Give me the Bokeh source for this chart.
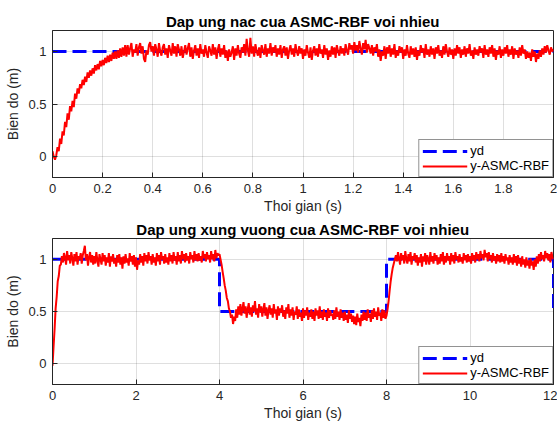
from bokeh.plotting import figure
from bokeh.models import FixedTicker, Legend, LegendItem, Range1d
from bokeh.layouts import column
from bokeh.embed import file_html
from bokeh.resources import INLINE

# ---------------- data ----------------
titles = ["Dap ung nac cua ASMC-RBF voi nhieu", "Dap ung xung vuong cua ASMC-RBF voi nhieu"]
x_label = "Thoi gian (s)"
y_label = "Bien do (m)"
legend_labels = ["yd", "y-ASMC-RBF"]

# step response (top), sampled every 0.005 s
step_t = [i / 200 for i in range(401)]
step_yd_t = [0, 2]
step_yd = [1, 1]
step_y = [
    0.05, 0.00, -0.03, 0.01, 0.09, 0.05, 0.17, 0.12, 0.24, 0.20,
    0.33, 0.28, 0.41, 0.35, 0.48, 0.43, 0.53, 0.47, 0.60, 0.55,
    0.65, 0.60, 0.69, 0.65, 0.73, 0.68, 0.76, 0.71, 0.80, 0.75,
    0.82, 0.77, 0.84, 0.79, 0.87, 0.82, 0.88, 0.83, 0.91, 0.86,
    0.92, 0.87, 0.94, 0.89, 0.96, 0.90, 0.97, 0.91, 0.99, 0.93,
    1.00, 0.93, 1.01, 0.94, 1.03, 0.95, 1.04, 0.96, 1.06, 0.95,
    1.06, 0.97, 1.03, 1.08, 0.95, 1.02, 0.99, 1.07, 0.96, 1.04,
    1.08, 0.98, 1.05, 0.93, 0.90, 1.01, 0.97, 1.06, 1.09, 1.00,
    1.05, 0.96, 1.07, 1.02, 0.95, 1.08, 1.00, 0.96, 1.04, 1.07,
    0.97, 1.03, 0.94, 1.06, 1.01, 0.96, 1.08, 0.98, 1.05, 0.95,
    1.07, 1.02, 0.96, 1.05, 0.94, 1.00, 1.06, 0.97, 1.03, 1.08,
    0.95, 1.04, 0.93, 1.01, 1.06, 0.96, 1.03, 0.94, 1.07, 0.98,
    1.02, 0.95, 1.06, 0.99, 0.94, 1.05, 1.01, 0.96, 1.07, 0.97,
    1.04, 0.93, 1.02, 1.07, 0.95, 1.03, 0.97, 1.06, 0.94, 1.01,
    0.91, 1.02, 0.95, 0.99, 1.05, 0.92, 1.03, 0.96, 1.06, 0.98,
    0.94, 1.04, 0.99, 1.07, 0.96, 1.12, 1.01, 0.95, 1.13, 0.98,
    1.05, 0.95, 1.07, 1.00, 0.96, 1.04, 0.94, 1.06, 1.01, 0.97,
    1.07, 0.95, 1.03, 0.98, 1.08, 0.96, 1.04, 0.99, 1.06, 0.95,
    1.03, 0.97, 1.06, 0.94, 1.02, 1.05, 0.96, 1.04, 0.93, 1.01,
    1.06, 0.97, 1.03, 0.95, 1.07, 1.00, 0.96, 1.05, 0.98, 1.03,
    0.93, 1.02, 0.96, 1.06, 0.99, 0.94, 1.04, 0.92, 1.01, 1.05,
    0.96, 1.03, 0.95, 1.07, 0.98, 1.02, 0.94, 1.06, 0.97, 1.03,
    0.92, 1.01, 0.95, 1.05, 0.97, 1.04, 0.94, 1.06, 1.00, 0.96,
    1.05, 0.98, 1.03, 0.96, 1.07, 1.01, 0.97, 1.08, 1.02, 1.06,
    0.98, 1.09, 1.01, 1.06, 0.99, 1.10, 1.03, 0.97, 1.08, 1.02,
    1.11, 0.99, 1.07, 1.03, 0.98, 1.06, 0.96, 1.04, 1.00, 1.07,
    0.95, 1.02, 0.91, 1.00, 0.96, 1.05, 0.93, 1.04, 0.98, 1.06,
    0.95, 1.03, 0.97, 1.07, 0.94, 1.01, 0.96, 1.05, 0.99, 1.04,
    0.93, 1.02, 0.96, 1.06, 0.98, 0.94, 1.05, 0.97, 1.03, 0.95,
    1.04, 0.92, 1.01, 0.96, 1.06, 0.99, 1.03, 0.94, 1.07, 0.97,
    1.02, 0.95, 1.05, 0.97, 1.03, 0.93, 1.04, 0.98, 1.06, 0.96,
    1.01, 0.94, 1.05, 0.97, 1.07, 1.00, 0.95, 1.04, 0.97, 1.02,
    0.93, 1.03, 0.96, 1.06, 0.98, 1.04, 0.94, 1.02, 0.97, 1.05,
    0.95, 1.03, 0.98, 1.07, 0.96, 1.01, 0.93, 1.04, 0.97, 1.02,
    0.96, 1.05, 0.99, 1.03, 0.94, 1.06, 0.97, 1.02, 0.95, 1.04,
    0.98, 1.06, 0.95, 1.03, 0.92, 1.01, 0.97, 1.05, 0.94, 1.02,
    0.96, 1.04, 0.98, 1.06, 0.95, 1.02, 0.97, 1.05, 0.93, 1.03,
    0.97, 1.01, 0.94, 1.04, 0.96, 1.06, 0.98, 1.02, 0.93, 1.00,
    0.94, 0.99, 0.91, 1.02, 0.95, 1.00, 0.90, 0.98, 0.93, 1.01,
    0.95, 1.03, 0.97, 1.05, 0.99, 1.06, 1.01, 0.97, 1.04, 1.00,
    1.02,
]

# square-wave response (bottom), sampled every 0.025 s
sq_t = [i / 40 for i in range(481)]
sq_yd_t = [0, 4, 4, 8, 8, 12, 12]
sq_yd = [1, 1, 0.5, 0.5, 1, 1, 0.5]
sq_y = [
    -0.02, 0.16, 0.33, 0.53, 0.64, 0.79, 0.84, 0.94, 0.95, 1.03,
    0.97, 1.06, 1.02, 0.95, 1.08, 0.99, 1.04, 0.96, 1.07, 1.01,
    0.94, 1.05, 0.98, 1.07, 0.95, 1.03, 1.00, 1.06, 0.96, 1.04,
    1.08, 1.13, 0.99, 1.05, 0.94, 1.02, 1.07, 0.97, 1.04, 0.95,
    1.03, 0.96, 1.07, 0.99, 0.93, 1.05, 1.00, 0.95, 1.06, 0.98,
    1.04, 0.94, 1.02, 0.97, 1.06, 0.93, 1.03, 0.98, 1.05, 0.96,
    1.01, 0.93, 1.04, 0.97, 1.05, 0.95, 1.02, 0.91, 1.03, 0.96,
    1.05, 0.97, 1.01, 0.94, 1.06, 0.98, 1.03, 0.95, 1.04, 0.93,
    1.02, 0.90, 0.99, 0.95, 1.05, 0.97, 1.03, 0.94, 1.06, 0.98,
    1.04, 0.96, 1.07, 0.99, 1.03, 0.95, 1.05, 0.97, 1.02, 0.94,
    1.06, 0.98, 1.04, 0.95, 1.07, 1.00, 1.03, 0.96, 1.05, 0.97,
    1.02, 0.95, 1.06, 0.98, 1.04, 0.96, 1.07, 0.99, 1.03, 0.95,
    1.07, 0.98, 1.04, 0.96, 1.08, 1.00, 1.05, 0.97, 1.06, 0.99,
    1.03, 0.96, 1.07, 1.00, 1.04, 0.97, 1.08, 0.99, 1.05, 0.98,
    1.06, 0.99, 1.03, 0.97, 1.08, 1.01, 1.05, 0.98, 1.07, 1.00,
    1.04, 0.97, 1.08, 1.00, 1.05, 0.98, 1.09, 1.01, 1.06, 1.04,
    1.05, 1.00, 0.95, 0.88, 0.82, 0.75, 0.70, 0.63, 0.60, 0.53,
    0.50, 0.44, 0.47, 0.38, 0.45, 0.41, 0.52, 0.44, 0.55, 0.47,
    0.57, 0.46, 0.53, 0.59, 0.48, 0.55, 0.44, 0.52, 0.58, 0.47,
    0.54, 0.45, 0.56, 0.50, 0.60, 0.47, 0.53, 0.44, 0.57, 0.49,
    0.55, 0.45, 0.52, 0.58, 0.46, 0.54, 0.43, 0.51, 0.56, 0.47,
    0.53, 0.44, 0.57, 0.48, 0.52, 0.42, 0.55, 0.46, 0.53, 0.49,
    0.56, 0.45, 0.51, 0.43, 0.54, 0.48, 0.57, 0.44, 0.52, 0.46,
    0.54, 0.42, 0.50, 0.47, 0.55, 0.43, 0.52, 0.45, 0.49, 0.41,
    0.53, 0.44, 0.51, 0.46, 0.54, 0.42, 0.49, 0.45, 0.52, 0.43,
    0.50, 0.41, 0.53, 0.46, 0.51, 0.43, 0.55, 0.44, 0.50, 0.42,
    0.52, 0.45, 0.49, 0.41, 0.53, 0.44, 0.51, 0.46, 0.48, 0.42,
    0.51, 0.43, 0.54, 0.45, 0.50, 0.42, 0.52, 0.44, 0.49, 0.41,
    0.50, 0.42, 0.47, 0.39, 0.51, 0.43, 0.48, 0.40, 0.46, 0.38,
    0.45, 0.37, 0.48, 0.40, 0.44, 0.36, 0.47, 0.41, 0.50, 0.42,
    0.49, 0.41, 0.52, 0.44, 0.48, 0.40, 0.51, 0.43, 0.53, 0.45,
    0.50, 0.42, 0.54, 0.46, 0.49, 0.41, 0.52, 0.44, 0.51, 0.43,
    0.46, 0.52, 0.60, 0.70, 0.79, 0.86, 0.92, 0.96, 1.00, 1.04,
    0.98, 1.07, 1.01, 0.95, 1.06, 0.99, 1.04, 0.96, 1.08, 1.00,
    0.96, 1.05, 0.98, 1.07, 0.95, 1.03, 1.00, 1.06, 0.97, 1.04,
    0.94, 1.02, 0.97, 1.05, 0.93, 1.03, 0.98, 1.06, 0.95, 1.04,
    1.00, 0.95, 1.07, 0.98, 1.03, 0.96, 1.06, 0.99, 1.04, 0.95,
    1.02, 0.96, 1.05, 0.98, 1.07, 0.95, 1.03, 0.97, 1.06, 0.99,
    1.03, 0.95, 1.06, 0.98, 1.04, 0.96, 1.07, 1.00, 1.03, 0.97,
    1.05, 0.98, 1.02, 0.96, 1.06, 0.99, 1.04, 0.97, 1.05, 0.98,
    1.03, 0.96, 1.06, 0.99, 1.04, 0.97, 1.07, 1.00, 1.05, 0.98,
    1.08, 1.01, 1.05, 0.99, 1.09, 1.02, 1.06, 0.98, 1.07, 1.00,
    1.04, 0.97, 1.06, 0.99, 1.03, 0.96, 1.05, 0.98, 1.04, 0.97,
    1.06, 0.98, 1.03, 0.96, 1.05, 0.99, 1.02, 0.95, 1.04, 0.97,
    1.02, 0.95, 1.05, 0.97, 1.03, 0.94, 1.04, 0.96, 1.01, 0.93,
    1.03, 0.95, 1.00, 0.92, 1.02, 0.94, 0.99, 0.91, 1.01, 0.94,
    0.98, 0.90, 1.00, 0.93, 1.03, 0.96, 1.05, 0.98, 1.07, 1.00,
    1.04, 0.98, 1.08, 1.01, 1.06, 0.99, 1.05, 0.97, 1.07, 1.02,
    1.00,
]

step_xticks = [0, 0.2, 0.4, 0.6, 0.8, 1, 1.2, 1.4, 1.6, 1.8, 2]
step_xtick_labels = ["0", "0.2", "0.4", "0.6", "0.8", "1", "1.2", "1.4", "1.6", "1.8", "2"]
sq_xticks = [0, 2, 4, 6, 8, 10, 12]
sq_xtick_labels = ["0", "2", "4", "6", "8", "10", "12"]
yticks = [0, 0.5, 1]
ytick_labels = ["0", "0.5", "1"]

FONT = "Liberation Sans"
AX = "#262626"


def make(title, t, y, yd_t, yd, xr, xticks, xlabels, height, top, bottom):
    p = figure(width=557, height=height, x_range=Range1d(*xr), y_range=Range1d(-0.2, 1.2),
               output_backend="svg", toolbar_location=None,
               min_border_left=52, min_border_right=4, min_border_top=top, min_border_bottom=bottom)
    p.title.text = title
    p.title.align = "center"
    p.title.text_font = FONT
    p.title.text_font_size = "15px"
    p.title.text_font_style = "bold"
    p.title.text_color = "black"
    p.title.standoff = 1
    p.outline_line_color = AX
    p.outline_line_width = 1
    p.outline_line_alpha = 1
    for g in (p.xgrid[0], p.ygrid[0]):
        g.grid_line_color = AX
        g.grid_line_alpha = 0.15
        g.grid_line_width = 1
    p.xgrid[0].ticker = FixedTicker(ticks=xticks)
    p.ygrid[0].ticker = FixedTicker(ticks=yticks)

    xa = p.xaxis[0]
    xa.ticker = FixedTicker(ticks=xticks)
    xa.major_label_overrides = {k: v for k, v in zip(xticks, xlabels)}
    xa.axis_label = x_label
    ya = p.yaxis[0]
    ya.ticker = FixedTicker(ticks=yticks)
    ya.major_label_overrides = {k: v for k, v in zip(yticks, ytick_labels)}
    ya.axis_label = y_label
    for a in (xa, ya):
        a.major_tick_in = 5
        a.major_tick_out = 0
        a.minor_tick_line_color = None
        a.major_tick_line_color = AX
        a.axis_line_color = AX
        a.major_label_text_font = FONT
        a.major_label_text_font_size = "13px"
        a.major_label_text_color = AX
        a.axis_label_text_font = FONT
        a.axis_label_text_font_size = "14px"
        a.axis_label_text_font_style = "normal"
        a.axis_label_text_color = AX
    xa.major_label_standoff = 6
    xa.axis_label_standoff = 2
    ya.major_label_standoff = 6
    ya.axis_label_standoff = 4

    r_yd = p.line(yd_t, yd, line_color="#0000ff", line_width=3, line_dash="14 6")
    r_y = p.line(t, y, line_color="#ff0000", line_width=2)

    leg = Legend(items=[LegendItem(label=legend_labels[0], renderers=[r_yd]),
                        LegendItem(label=legend_labels[1], renderers=[r_y])],
                 location="bottom_right", margin=0, padding=3, spacing=0,
                 glyph_width=45, glyph_height=14, label_height=14, label_standoff=3,
                 label_text_font=FONT, label_text_font_size="13px", label_text_color="black",
                 border_line_color=AX, border_line_width=1, background_fill_color="white",
                 background_fill_alpha=1)
    p.add_layout(leg)
    return p


p1 = make(titles[0], step_t, step_y, step_yd_t, step_yd, (0, 2), step_xticks, step_xtick_labels, 218, 30, 41)
p2 = make(titles[1], sq_t, sq_y, sq_yd_t, sq_yd, (0, 12), sq_xticks, sq_xtick_labels, 205, 20, 38)

layout = column(p1, p2, spacing=0)
open("out.html", "w").write(file_html(layout, INLINE))
